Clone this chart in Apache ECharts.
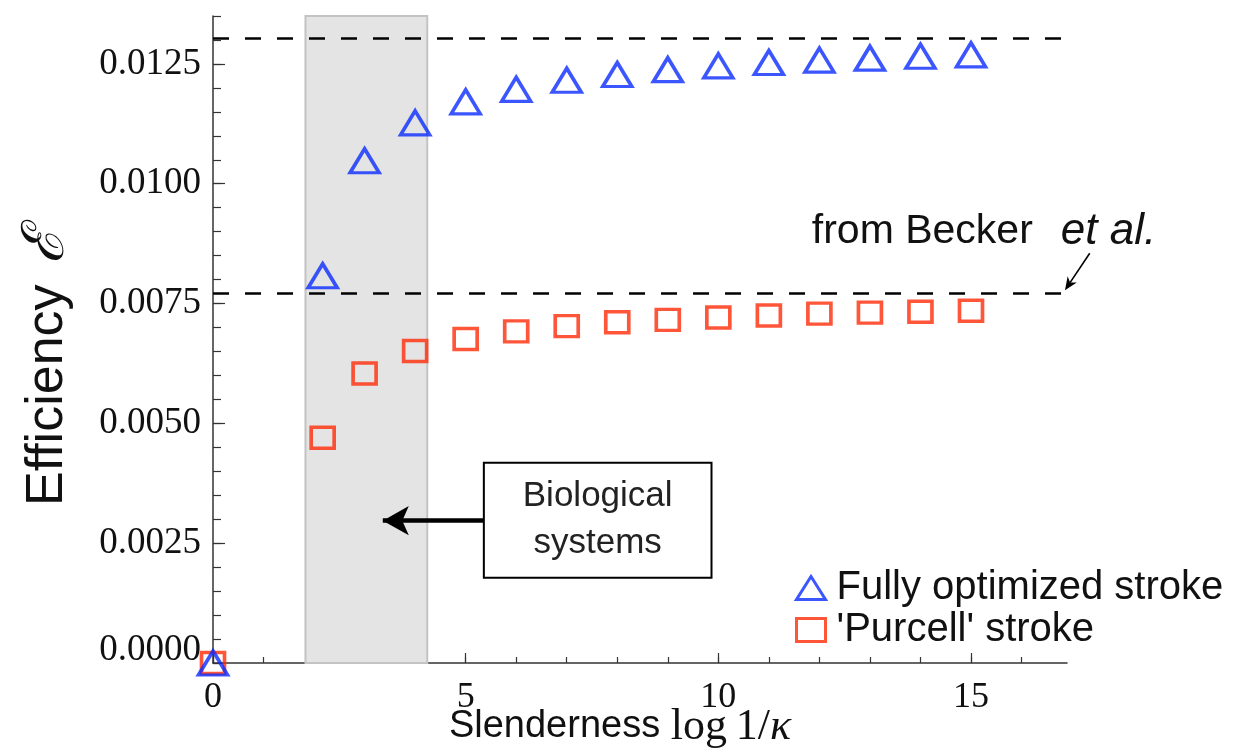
<!DOCTYPE html>
<html>
<head>
<meta charset="utf-8">
<script src="https://cdn.jsdelivr.net/npm/echarts@6/dist/echarts.min.js"></script>
<style>
  html, body { margin: 0; padding: 0; background: #fff; }
  #chart { width: 1247px; height: 749px; }
</style>
</head>
<body>
<div id="chart"></div>
<script>
// Slenderness values log(1/kappa) at which the strokes were evaluated
const slenderness = [0, 2.17, 3, 4, 5, 6, 7, 8, 9, 10, 11, 12, 13, 14, 15];
// Efficiency of the fully optimized stroke
const optimizedEff = [0, 0.00808, 0.01048, 0.01127, 0.01171, 0.01197, 0.01216, 0.01228, 0.01238, 0.01246, 0.01253, 0.01258, 0.01262, 0.01266, 0.01269];
// Efficiency of Purcell's stroke
const purcellEff = [0, 0.00470, 0.00604, 0.00651, 0.00676, 0.00692, 0.00703, 0.00711, 0.00716, 0.00721, 0.00725, 0.00729, 0.00731, 0.00733, 0.00735];
// Reference efficiency levels (dashed)
const referenceLevels = [0.01304, 0.00772];
// Slenderness range of biological swimmers
const biologicalRange = [1.83, 4.24];
// Axis ticks
const yMajorTicks = [0, 0.0025, 0.005, 0.0075, 0.01, 0.0125];
const yMinorTicks = [0, 0.0005, 0.001, 0.0015, 0.002, 0.0025, 0.003, 0.0035, 0.004, 0.0045, 0.005, 0.0055, 0.006, 0.0065, 0.007, 0.0075, 0.008, 0.0085, 0.009, 0.0095, 0.01, 0.0105, 0.011, 0.0115, 0.012, 0.0125, 0.013, 0.0135];
const xMajorTicks = [0, 5, 10, 15];
const xMinorTicks = [0, 1, 2, 3, 4, 5, 6, 7, 8, 9, 10, 11, 12, 13, 14, 15, 16];
const X_MAX = 16.9, Y_MAX = 0.0135;

const BLUE = '#0a2cff';
const RED = '#ff2a08';
const SANS = 'Liberation Sans';
const SERIF = 'Liberation Serif';
const AXIS_COLOR = '#333';
const MARK_STROKE = 3.5;

const chart = echarts.init(document.getElementById('chart'), null, { renderer: 'canvas' });

const baseX = { type: 'value', min: 0, max: X_MAX, position: 'bottom', splitLine: { show: false } };
const baseY = { type: 'value', min: 0, max: Y_MAX, position: 'left', splitLine: { show: false } };

const option = {
  animation: false,
  backgroundColor: '#fff',
  grid: { left: 213, right: 180, top: 16, bottom: 86, containLabel: false, outerBoundsMode: 'none' },
  xAxis: [
    Object.assign({}, baseX, {
      axisLine: { show: true, onZero: false, lineStyle: { color: AXIS_COLOR, width: 1.5 } },
      axisTick: { show: true, inside: true, length: 10, customValues: xMajorTicks, lineStyle: { color: AXIS_COLOR, width: 1.2 } },
      axisLabel: { show: true, customValues: xMajorTicks, margin: 17, fontFamily: SERIF, fontSize: 36, color: '#111' },
      name: 'Slenderness {m|log\u20091/}{k|\u03ba}',
      nameLocation: 'middle',
      nameMoveOverlap: false,
      nameGap: 64,
      nameTextStyle: {
        fontFamily: SANS, fontSize: 38, color: '#111', padding: [0, 40, 0, 0],
        verticalAlign: 'middle', lineHeight: 46,
        rich: {
          m: { fontFamily: SERIF, fontSize: 44, color: '#111', lineHeight: 46 },
          k: { fontFamily: SERIF, fontStyle: 'italic', fontSize: 44, color: '#111', lineHeight: 46 }
        }
      }
    }),
    Object.assign({}, baseX, {
      axisLine: { show: false },
      axisTick: { show: true, inside: true, length: 6, customValues: xMinorTicks, lineStyle: { color: AXIS_COLOR, width: 1.2 } },
      axisLabel: { show: false }
    })
  ],
  yAxis: [
    Object.assign({}, baseY, {
      axisLine: { show: true, onZero: false, lineStyle: { color: AXIS_COLOR, width: 1.5 } },
      axisTick: { show: true, inside: true, length: 12, customValues: yMajorTicks, lineStyle: { color: AXIS_COLOR, width: 1.2 } },
      axisLabel: {
        show: true, customValues: yMajorTicks, margin: 12, fontFamily: SERIF, fontSize: 37, color: '#111',
        formatter: v => v === 0 ? '{z|' + v.toFixed(4) + '}' : v.toFixed(4),
        rich: { z: { fontFamily: SERIF, fontSize: 37, color: '#111', padding: [0, 0, 26, 0] } }
      },
      name: 'Efficiency {e|\u2130}',
      nameLocation: 'middle',
      nameMoveOverlap: false,
      nameGap: 136,
      nameTextStyle: {
        fontFamily: SANS, fontSize: 52, color: '#111', padding: [0, 56, 0, 0],
        rich: { e: { fontFamily: 'DejaVu Serif', fontStyle: 'italic', fontSize: 58, color: '#111', padding: [0, 0, 0, 6] } }
      }
    }),
    Object.assign({}, baseY, {
      axisLine: { show: false },
      axisTick: { show: true, inside: true, length: 8, customValues: yMinorTicks, lineStyle: { color: AXIS_COLOR, width: 1.2 } },
      axisLabel: { show: false }
    })
  ],
  legend: {
    orient: 'vertical',
    left: 790,
    top: 563,
    itemWidth: 29,
    itemHeight: 23,
    itemGap: 2,
    data: [
      { name: 'Fully optimized stroke', itemStyle: { color: 'rgba(0,0,0,0)', borderColor: BLUE, borderWidth: 3 } },
      { name: "'Purcell' stroke", itemStyle: { color: 'rgba(0,0,0,0)', borderColor: RED, borderWidth: 3 } }
    ],
    textStyle: { fontFamily: SANS, fontSize: 40, color: '#111', lineHeight: 40, padding: [0, 0, 0, 6] }
  },
  series: [
    {
      // shaded band of biological slenderness
      name: 'band', type: 'scatter', data: [], z: 1, silent: true,
      markArea: {
        silent: true,
        itemStyle: { color: '#e4e4e4', borderColor: '#c3c3c3', borderWidth: 2 },
        label: { show: false },
        data: [[{ coord: [biologicalRange[0], 0] }, { coord: [biologicalRange[1], Y_MAX] }]]
      }
    },
    {
      // dashed reference levels across the full x range
      name: 'levels', type: 'scatter', data: [], z: 2, silent: true,
      markLine: {
        silent: true, symbol: ['none', 'none'], animation: false,
        label: { show: false },
        lineStyle: { color: '#000', width: 2.6, type: [16, 16] },
        data: referenceLevels.map(v => [{ coord: [0, v] }, { coord: [X_MAX, v] }])
      }
    },
    {
      // "Biological systems" callout box and its arrow
      name: 'callout', type: 'scatter', data: [], z: 3, silent: true,
      markArea: {
        silent: true,
        itemStyle: { color: '#fff', borderColor: '#000', borderWidth: 2 },
        label: {
          show: true, position: 'inside', formatter: 'Biological\nsystems',
          fontFamily: SANS, fontSize: 35, lineHeight: 47, color: '#222', align: 'center', verticalAlign: 'middle'
        },
        data: [[{ coord: [5.36, 0.00418] }, { coord: [9.865, 0.00178] }]]
      },
      markLine: {
        silent: true, symbol: ['none', 'arrow'], symbolSize: [22, 26], animation: false,
        label: { show: false },
        lineStyle: { color: '#000', width: 4.5, type: 'solid' },
        data: [[{ coord: [5.36, 0.00297] }, { coord: [3.36, 0.00297] }]]
      }
    },
    {
      name: 'Fully optimized stroke', type: 'scatter', z: 5,
      symbol: 'triangle', symbolSize: [29, 24],
      itemStyle: { color: 'rgba(0,0,0,0)', borderColor: BLUE, borderWidth: MARK_STROKE },
      data: slenderness.map((x, i) => [x, optimizedEff[i]])
    },
    {
      name: "'Purcell' stroke", type: 'scatter', z: 4,
      symbol: 'rect', symbolSize: [23, 21],
      itemStyle: { color: 'rgba(0,0,0,0)', borderColor: RED, borderWidth: MARK_STROKE },
      data: slenderness.map((x, i) => [x, purcellEff[i]])
    }
  ]
};

chart.setOption(option);

// Annotation for the literature reference, placed in data coordinates
const toPx = p => chart.convertToPixel({ xAxisIndex: 0, yAxisIndex: 0 }, p);
const textPos = toPx([11.85, 0.00899]);
const arrowFrom = toPx([17.35, 0.00855]);
const arrowTo = toPx([16.86, 0.00778]);
const dx = arrowTo[0] - arrowFrom[0], dy = arrowTo[1] - arrowFrom[1];
const len = Math.hypot(dx, dy), ux = dx / len, uy = dy / len;
const headLen = 13, headHalf = 5.5;
const base = [arrowTo[0] - ux * headLen, arrowTo[1] - uy * headLen];
const notch = [arrowTo[0] - ux * headLen * 0.7, arrowTo[1] - uy * headLen * 0.7];

chart.setOption({
  graphic: [
    {
      type: 'text', x: textPos[0], y: textPos[1], z: 10,
      style: {
        text: '{n|from Becker}{i|et al.}',
        verticalAlign: 'middle', align: 'left',
        rich: {
          n: { fontFamily: SANS, fontSize: 41, fill: '#111' },
          i: { fontFamily: SANS, fontStyle: 'italic', fontSize: 44, fill: '#111', padding: [0, 0, 0, 28] }
        }
      }
    },
    {
      type: 'line', z: 10,
      shape: { x1: arrowFrom[0], y1: arrowFrom[1], x2: notch[0], y2: notch[1] },
      style: { stroke: '#000', lineWidth: 1.6 }
    },
    {
      type: 'polygon', z: 10,
      shape: {
        points: [
          arrowTo,
          [base[0] - uy * headHalf, base[1] + ux * headHalf],
          notch,
          [base[0] + uy * headHalf, base[1] - ux * headHalf]
        ]
      },
      style: { fill: '#000' }
    }
  ]
});
</script>
</body>
</html>
